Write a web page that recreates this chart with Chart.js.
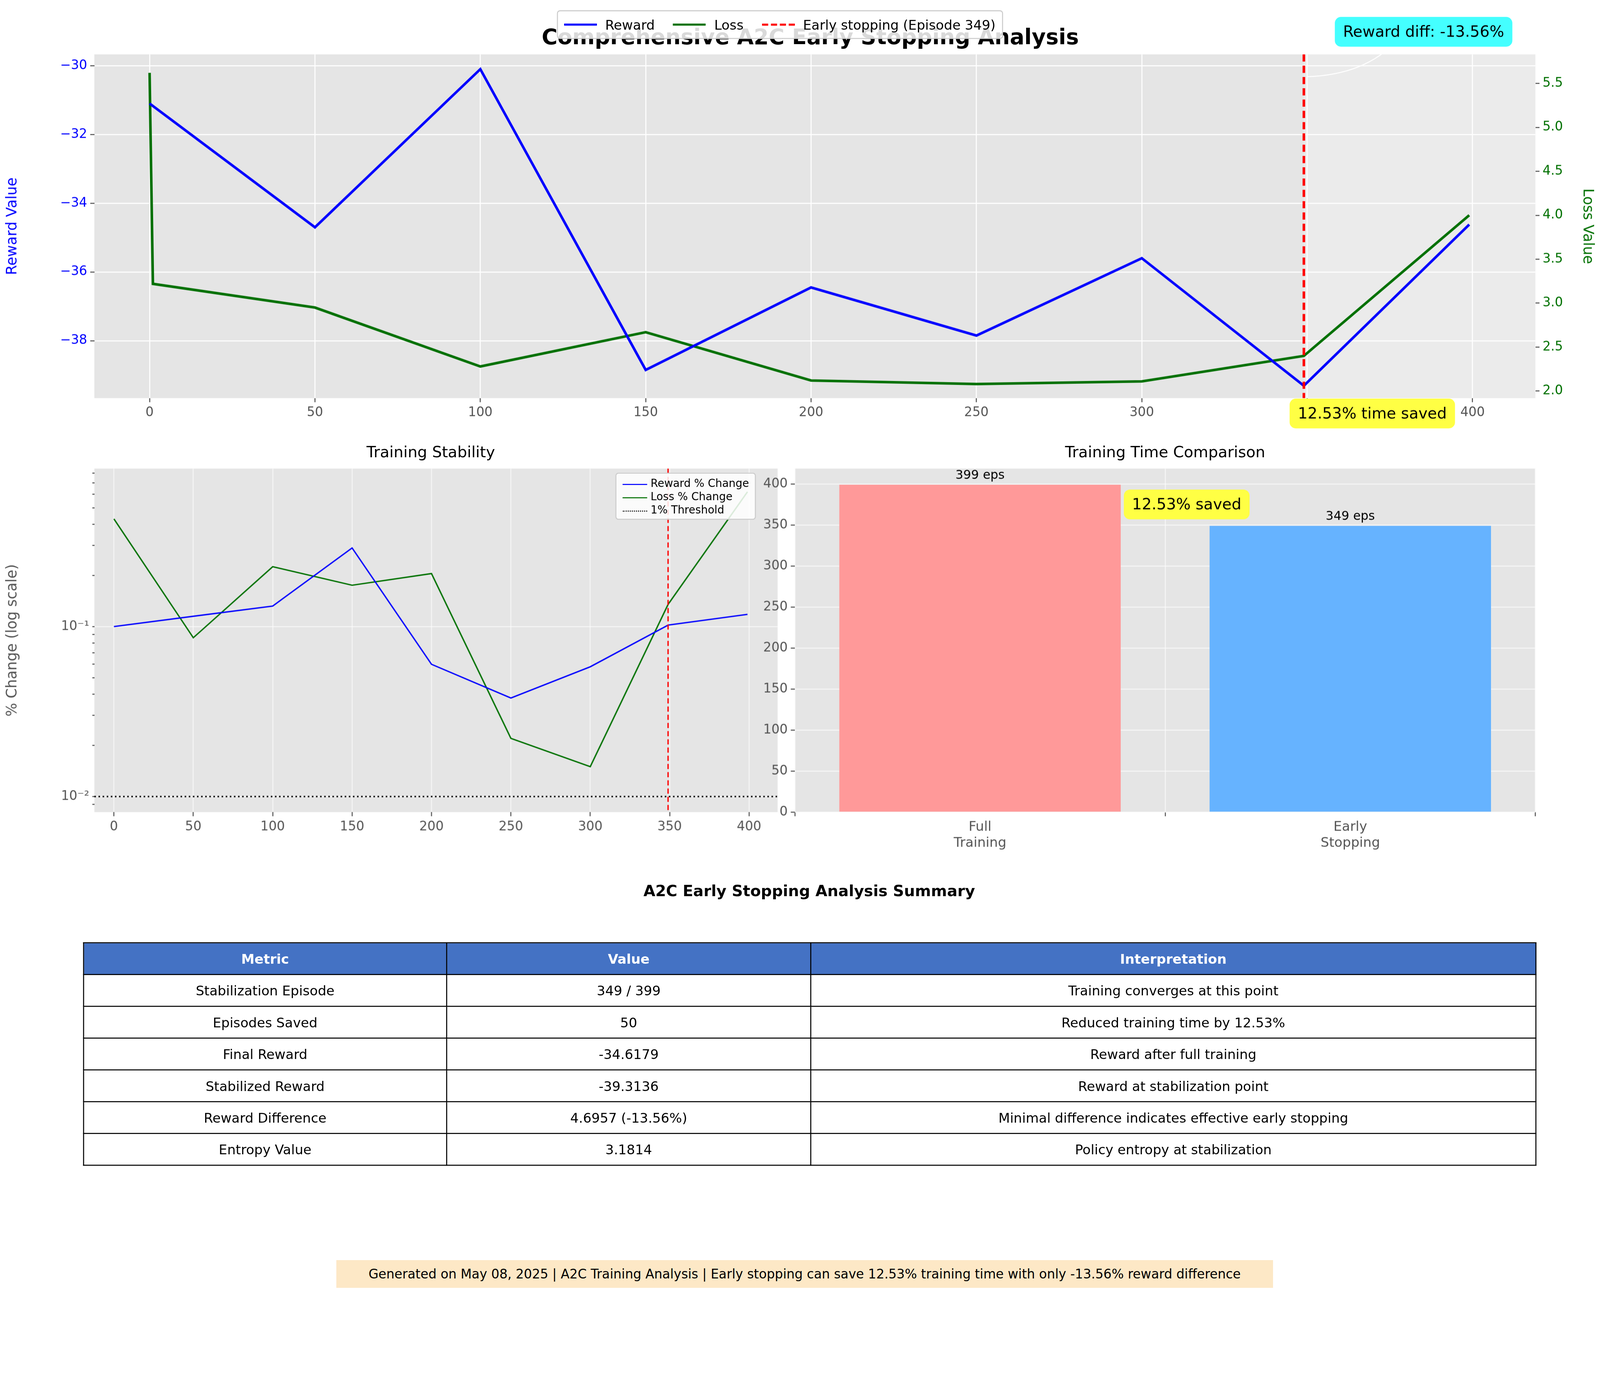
<!DOCTYPE html>
<html><head><meta charset="utf-8">
<script src="https://cdn.jsdelivr.net/npm/chart.js@4.4.1/dist/chart.umd.min.js"></script>
<style>
html,body{margin:0;padding:0;background:#fff;overflow:hidden}
#page{position:absolute;left:0;top:0;width:1560px;height:1254px;transform-origin:0 0;font-family:"DejaVu Sans",sans-serif}
canvas{position:absolute}
.abs{position:absolute}
table{border-collapse:collapse;font-size:13px}
td,th{border:1px solid #000;text-align:center;height:30px;padding:0}
th{background:#4472c4;color:#fff;font-weight:bold}
.leg{background:rgba(255,255,255,0.85);border:1px solid #ccc;border-radius:3px;display:flex;align-items:center;gap:8px;padding:2px 6px;font-size:13px}
.sw{display:inline-block;width:32px;border-top:2.5px solid}
</style></head><body>
<div id="page">
  <canvas id="top" style="left:0;top:0;width:1560px;height:420px"></canvas>
  <canvas id="stab" style="left:0;top:440px;width:760px;height:400px"></canvas>
  <canvas id="bars" style="left:735px;top:440px;width:825px;height:400px"></canvas>
  <div class="abs" style="left:0;width:1580px;top:24px;text-align:center;font-size:21px;font-weight:bold">Comprehensive A2C Early Stopping Analysis</div>
  <div class="abs leg" style="left:543px;top:10px;height:22px">
    <span class="sw" style="border-color:#0000ff"></span>Reward
    <span class="sw" style="border-color:#007000;margin-left:10px"></span>Loss
    <span class="sw" style="border-color:#ff0000;border-top-style:dashed;margin-left:10px"></span>Early stopping (Episode 349)
  </div>
  <div class="abs" style="left:92px;width:656px;top:432px;text-align:center;font-size:15px">Training Stability</div>
  <div class="abs" style="left:775px;width:722px;top:432px;text-align:center;font-size:15px">Training Time Comparison</div>
  <div class="abs leg" style="left:600px;top:461px;flex-direction:column;align-items:flex-start;gap:1px;font-size:10.5px;padding:3px 6px">
    <div><span class="sw" style="border-color:#0000ff;border-top-width:1.5px;width:24px;vertical-align:middle"></span> Reward % Change</div>
    <div><span class="sw" style="border-color:#007000;border-top-width:1.5px;width:24px;vertical-align:middle"></span> Loss % Change</div>
    <div><span class="sw" style="border-color:#000;border-top:1.5px dotted;width:24px;vertical-align:middle"></span> 1% Threshold</div>
  </div>
  <div class="abs" style="left:0;width:1578px;top:860px;text-align:center;font-size:15px;font-weight:bold">A2C Early Stopping Analysis Summary</div>
  <table class="abs" style="left:81px;top:919px;width:1417px" id="tbl"></table>
  <div class="abs" style="left:328px;top:1229px;width:913px;height:27px;line-height:27px;background:#fde8c6;text-align:center;font-size:12.5px">Generated on May 08, 2025 | A2C Training Analysis | Early stopping can save 12.53% training time with only -13.56% reward difference</div>
</div>
<script>
const S = (window.innerWidth || 4448) / 1560;
const DPR = S * (window.devicePixelRatio || 1);
document.getElementById('page').style.transform = 'scale(' + S + ')';

const episodes = [0, 50, 100, 150, 200, 250, 300, 349, 399];
const rewards = [-31.1, -34.7, -30.1, -38.85, -36.45, -37.85, -35.6, -39.31, -34.62];
const lossEpisodes = [0, 1, 50, 100, 150, 200, 250, 300, 349, 399];
const losses = [5.62, 3.22, 2.95, 2.28, 2.67, 2.12, 2.08, 2.11, 2.40, 4.00];
const rewardPct = [0.100, 0.115, 0.132, 0.29, 0.060, 0.038, 0.058, 0.102, 0.118];
const lossPct = [0.43, 0.086, 0.225, 0.175, 0.205, 0.022, 0.015, 0.135, 0.62];
const threshold = 0.01;
const stopEpisode = 349;
const barLabels = [['Full', 'Training'], ['Early', 'Stopping']];
const barValues = [399, 349];
const tableHeader = ['Metric', 'Value', 'Interpretation'];
const tableRows = [
  ['Stabilization Episode', '349 / 399', 'Training converges at this point'],
  ['Episodes Saved', '50', 'Reduced training time by 12.53%'],
  ['Final Reward', '-34.6179', 'Reward after full training'],
  ['Stabilized Reward', '-39.3136', 'Reward at stabilization point'],
  ['Reward Difference', '4.6957 (-13.56%)', 'Minimal difference indicates effective early stopping'],
  ['Entropy Value', '3.1814', 'Policy entropy at stabilization']
];

const tbl = document.getElementById('tbl');
tbl.innerHTML = '<colgroup><col style="width:354px"><col style="width:355px"><col></colgroup>' +
  '<tr>' + tableHeader.map(h => '<th>' + h + '</th>').join('') + '</tr>' +
  tableRows.map(r => '<tr>' + r.map(c => '<td>' + c + '</td>').join('') + '</tr>').join('');

Chart.defaults.font.family = '"DejaVu Sans", sans-serif';
Chart.defaults.font.size = 12.5;
Chart.defaults.color = '#555';
Chart.defaults.animation = false;

const bgPlugin = {
  id: 'bg',
  beforeDraw(c) {
    const a = c.chartArea, x = c.ctx;
    x.save(); x.fillStyle = '#e5e5e5'; x.fillRect(a.left, a.top, a.width, a.height); x.restore();
  }
};
function box(ctx, text, cx, cy, fill, size) {
  ctx.save();
  ctx.font = size + 'px "DejaVu Sans"';
  const w = ctx.measureText(text).width + 16, h = size + 14;
  ctx.fillStyle = fill;
  ctx.beginPath(); ctx.roundRect(cx - w / 2, cy - h / 2, w, h, 6); ctx.fill();
  ctx.fillStyle = '#000'; ctx.textAlign = 'center'; ctx.textBaseline = 'middle';
  ctx.fillText(text, cx, cy + 1);
  ctx.restore();
}
function vline(c, color, width, dash) {
  const x = c.scales.x.getPixelForValue(stopEpisode), a = c.chartArea, ctx = c.ctx;
  ctx.save(); ctx.strokeStyle = color; ctx.lineWidth = width; ctx.setLineDash(dash);
  ctx.beginPath(); ctx.moveTo(x, a.top); ctx.lineTo(x, a.bottom); ctx.stroke(); ctx.restore();
}
const grid = { color: '#fff', lineWidth: 1, drawTicks: true, tickColor: '#555', tickLength: 4 };

new Chart(document.getElementById('top'), {
  type: 'line',
  data: { datasets: [
    { data: episodes.map((e, i) => ({ x: e, y: rewards[i] })), borderColor: '#0000ff', borderWidth: 2.5, pointRadius: 0, yAxisID: 'y' },
    { data: lossEpisodes.map((e, i) => ({ x: e, y: losses[i] })), borderColor: '#007000', borderWidth: 2.5, pointRadius: 0, yAxisID: 'y1' }
  ] },
  options: {
    responsive: false, devicePixelRatio: DPR, layout: { padding: { top: 53 } },
    plugins: { legend: { display: false }, tooltip: { enabled: false } },
    scales: {
      x: { type: 'linear', min: -16.7, max: 419, afterBuildTicks: s => { s.ticks = [0, 50, 100, 150, 200, 250, 300, 350, 400].map(v => ({ value: v })); },
        grid, border: { display: false }, afterFit: s => { s.height = 32; } },
      y: { min: -39.67, max: -29.67, afterBuildTicks: s => { s.ticks = [-30, -32, -34, -36, -38].map(v => ({ value: v })); },
        ticks: { color: '#0000ff', callback: v => '\u2212' + Math.abs(v) }, grid, border: { display: false },
        title: { display: true, text: 'Reward Value', color: '#0000ff', font: { size: 14 } }, afterFit: s => { s.width = 92; } },
      y1: { position: 'right', min: 1.92, max: 5.83, afterBuildTicks: s => { s.ticks = [2, 2.5, 3, 3.5, 4, 4.5, 5, 5.5].map(v => ({ value: v })); },
        ticks: { color: '#007000', callback: v => v.toFixed(1) }, grid: { drawOnChartArea: false, tickColor: '#555', tickLength: 4 }, border: { display: false },
        title: { display: true, text: 'Loss Value', color: '#007000', font: { size: 14 } }, afterFit: s => { s.width = 63; } }
    }
  },
  plugins: [bgPlugin, {
    id: 'ann',
    beforeDatasetsDraw(c) {
      const a = c.chartArea, x = c.scales.x.getPixelForValue(stopEpisode), ctx = c.ctx;
      ctx.save(); ctx.fillStyle = 'rgba(255,255,255,0.25)'; ctx.fillRect(x, a.top, a.right - x, a.height); ctx.restore();
    },
    afterDraw(c) {
      vline(c, '#ff0000', 2.5, [7, 4]);
      const ctx = c.ctx, px = c.scales.x.getPixelForValue(stopEpisode);
      const py = c.scales.y.getPixelForValue(-30.2);
      ctx.save(); ctx.strokeStyle = '#fff'; ctx.lineWidth = 1;
      ctx.beginPath(); ctx.moveTo(px + 3, py + 4); ctx.quadraticCurveTo(px + 60, py + 2, px + 90, 40); ctx.stroke(); ctx.restore();
      box(ctx, 'Reward diff: -13.56%', 1388, 31, '#44ffff', 15);
      box(ctx, '12.53% time saved', 1338, 403, '#ffff44', 15);
    }
  }]
});

new Chart(document.getElementById('stab'), {
  type: 'line',
  data: { datasets: [
    { data: episodes.map((e, i) => ({ x: e, y: rewardPct[i] })), borderColor: '#0000ff', borderWidth: 1.3, pointRadius: 0 },
    { data: episodes.map((e, i) => ({ x: e, y: lossPct[i] })), borderColor: '#007000', borderWidth: 1.3, pointRadius: 0 }
  ] },
  options: {
    responsive: false, devicePixelRatio: DPR, layout: { padding: { top: 17, right: 2 } },
    plugins: { legend: { display: false }, tooltip: { enabled: false } },
    scales: {
      x: { type: 'linear', min: -12.3, max: 418, afterBuildTicks: s => { s.ticks = [0, 50, 100, 150, 200, 250, 300, 350, 400].map(v => ({ value: v })); },
        grid: { color: 'rgba(255,255,255,0.6)', tickColor: '#555', tickLength: 4 }, border: { display: false }, afterFit: s => { s.height = 48; } },
      y: { type: 'logarithmic', min: 0.0081, max: 0.85,
        afterBuildTicks: s => { const t = []; [0.001, 0.01, 0.1].forEach(d => { for (let k = 1; k < 10; k++) { const v = d * k; if (v >= 0.0081 && v <= 0.85) t.push({ value: v }); } }); s.ticks = t; },
        ticks: { autoSkip: false, callback: v => Math.abs(v - 0.1) < 1e-9 ? '10\u207B\u00B9' : (Math.abs(v - 0.01) < 1e-9 ? '10\u207B\u00B2' : '') },
        grid: { color: c => { const v = c.tick && c.tick.value; return (Math.abs(v - 0.1) < 1e-9 || Math.abs(v - 0.01) < 1e-9) ? 'rgba(255,255,255,0.6)' : 'rgba(0,0,0,0)'; }, tickColor: '#555', tickLength: c => { const v = c.tick && c.tick.value; return (Math.abs(v - 0.1) < 1e-9 || Math.abs(v - 0.01) < 1e-9) ? 4 : 2; } },
        border: { display: false },
        title: { display: true, text: '% Change (log scale)', font: { size: 14 } }, afterFit: s => { s.width = 92; } }
    }
  },
  plugins: [bgPlugin, {
    id: 'thr',
    afterDatasetsDraw(c) {
      const a = c.chartArea, y = c.scales.y.getPixelForValue(threshold), ctx = c.ctx;
      ctx.save(); ctx.strokeStyle = '#000'; ctx.lineWidth = 1.5; ctx.setLineDash([1.5, 2.5]);
      ctx.beginPath(); ctx.moveTo(a.left, y); ctx.lineTo(a.right, y); ctx.stroke(); ctx.restore();
      vline(c, '#ff0000', 1.3, [5, 3]);
    }
  }]
});

new Chart(document.getElementById('bars'), {
  type: 'bar',
  data: { labels: barLabels, datasets: [{ data: barValues, backgroundColor: ['#ff9999', '#66b3ff'], barPercentage: 0.76, categoryPercentage: 1 }] },
  options: {
    responsive: false, devicePixelRatio: DPR, layout: { padding: { top: 17, right: 63 } },
    plugins: { legend: { display: false }, tooltip: { enabled: false } },
    scales: {
      x: { grid: { color: 'rgba(255,255,255,0.6)', tickColor: '#555', tickLength: 4 }, border: { display: false }, ticks: { font: { size: 13 } }, afterFit: s => { s.height = 48; } },
      y: { min: 0, max: 418.75, afterBuildTicks: s => { s.ticks = [0, 50, 100, 150, 200, 250, 300, 350, 400].map(v => ({ value: v })); },
        grid: { color: 'rgba(255,255,255,0.6)', tickColor: '#555', tickLength: 4 }, border: { display: false }, afterFit: s => { s.width = 40; } }
    }
  },
  plugins: [bgPlugin, {
    id: 'lbl',
    afterDatasetsDraw(c) {
      const ctx = c.ctx, meta = c.getDatasetMeta(0);
      ctx.save(); ctx.font = '12px "DejaVu Sans"'; ctx.fillStyle = '#000'; ctx.textAlign = 'center'; ctx.textBaseline = 'bottom';
      meta.data.forEach((b, i) => ctx.fillText(barValues[i] + ' eps', b.x, b.y - 3));
      ctx.restore();
      box(ctx, '12.53% saved', 1157 - 735, 492 - 440, '#ffff44', 15);
    }
  }]
});
</script>
</body></html>
